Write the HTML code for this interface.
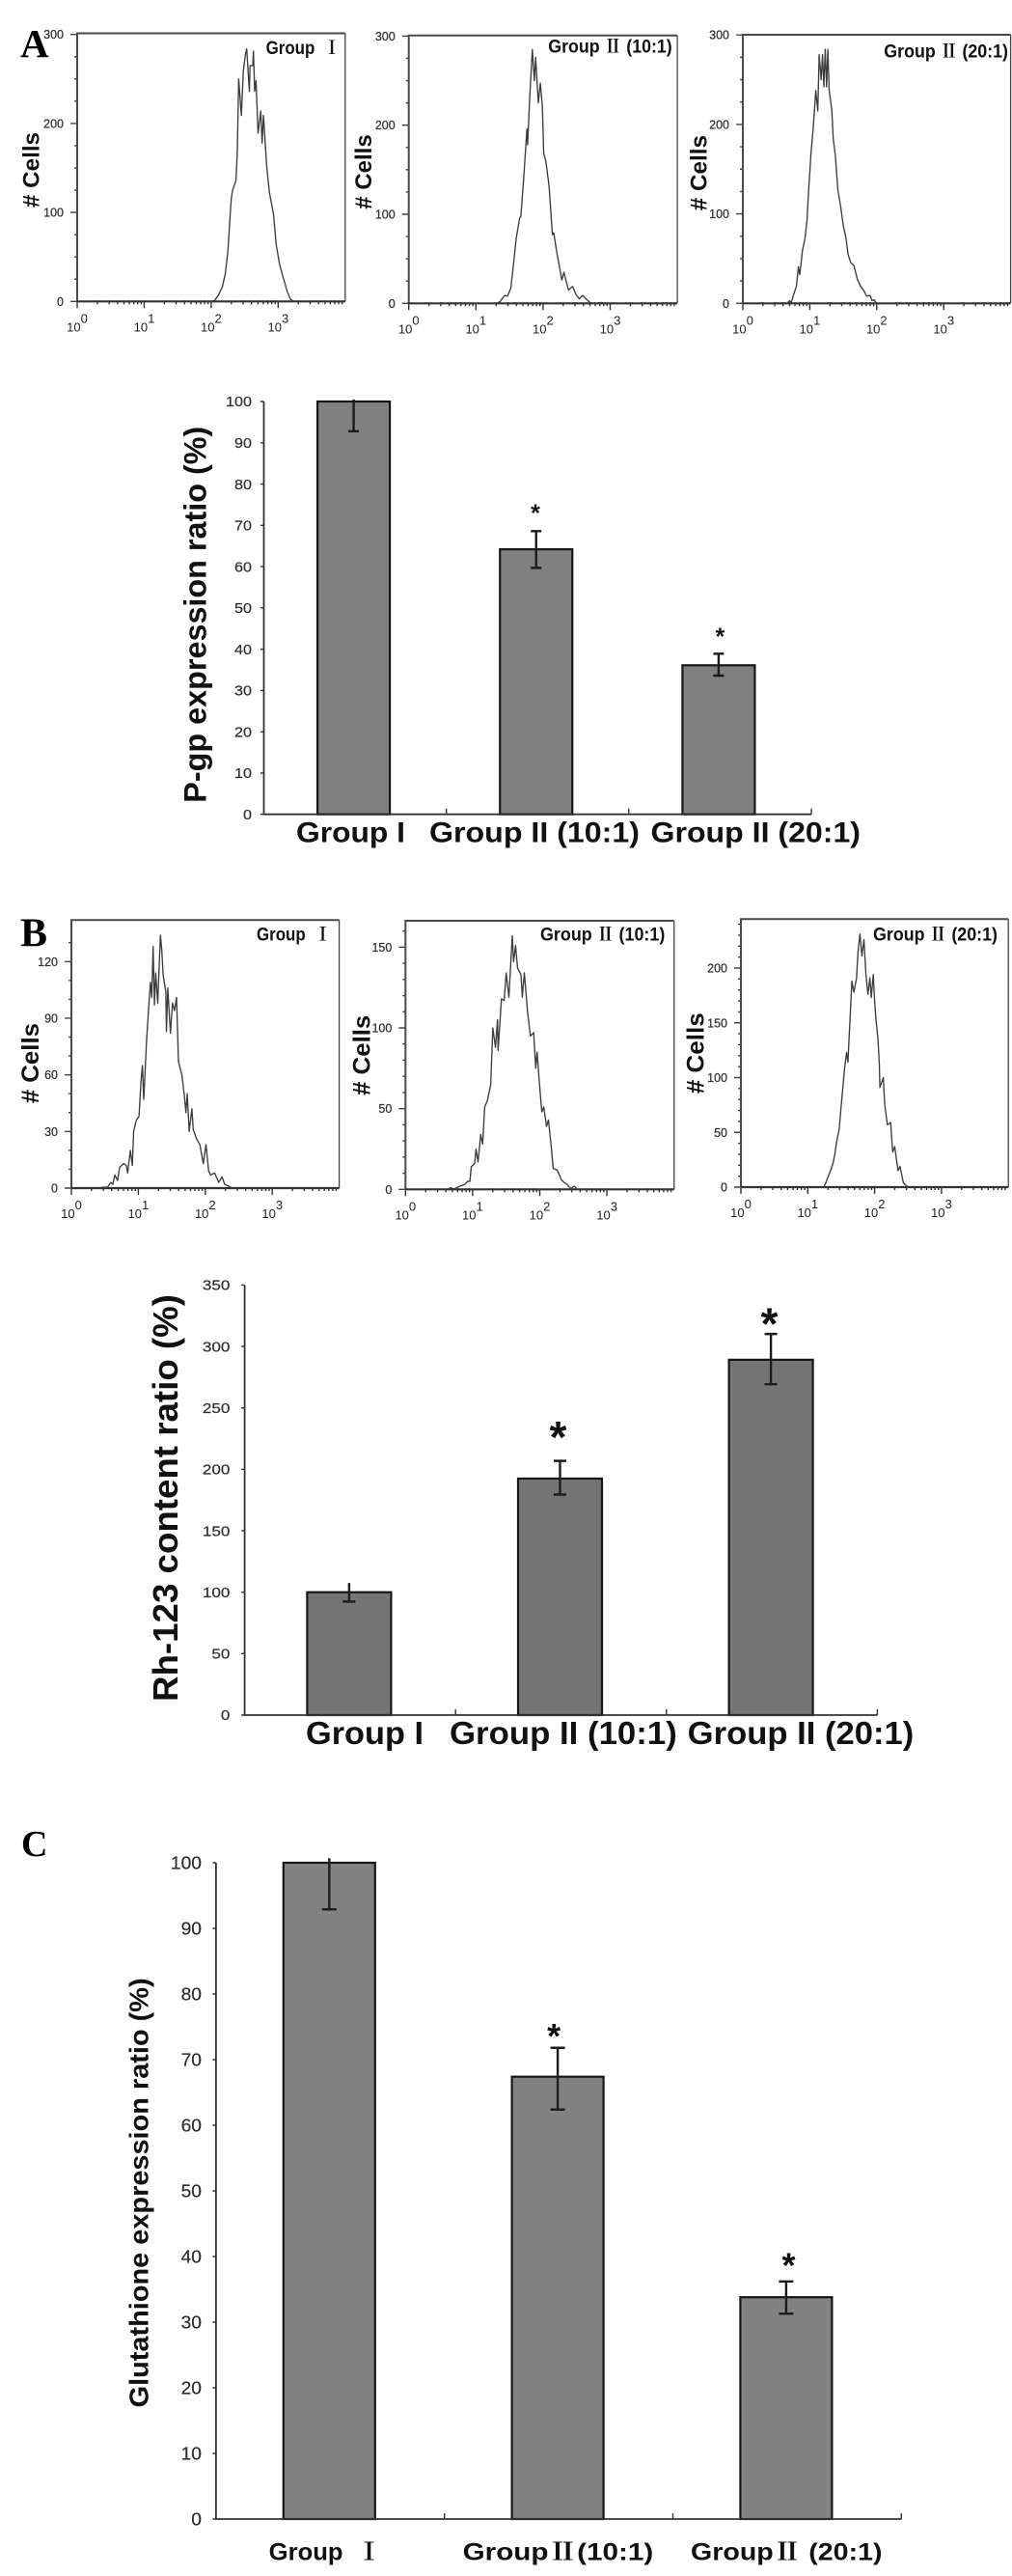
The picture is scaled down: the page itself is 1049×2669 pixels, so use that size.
<!DOCTYPE html>
<html lang="en">
<head>
<meta charset="utf-8">
<title>P-gp, Rh-123 and glutathione expression by group</title>
<style>
html,body{margin:0;padding:0;background:#fff;width:1049px;height:2669px;overflow:hidden}
svg{display:block;position:absolute;left:0;top:0;filter:blur(.3px)}
text{font-family:"Liberation Sans","Noto Serif CJK SC",sans-serif;white-space:pre}
.letter{font-family:"Liberation Serif",serif;font-weight:700;fill:#000}
.ytitle{font-weight:700;fill:#111}
.grp{font-weight:700;font-size:19px;fill:#111}
</style>
</head>
<body>
<svg id="figure" xmlns="http://www.w3.org/2000/svg" width="1049" height="2669" viewBox="0 0 1049 2669">
  <rect x="0" y="0" width="1049" height="2669" fill="#fff"/>
  <g id="charts"></g>

  <text class="letter" x="21" y="59" font-size="41">A</text>
  <text class="letter" x="21" y="980.5" font-size="42">B</text>
  <text class="letter" x="22" y="1923" font-size="38">C</text>

  <text class="grp" x="275.6" y="56" textLength="77" lengthAdjust="spacingAndGlyphs">Group&#160;&#160;Ⅰ</text>
  <text class="grp" x="568.3" y="54.3" textLength="128.4" lengthAdjust="spacingAndGlyphs">Group Ⅱ (10:1)</text>
  <text class="grp" x="916.3" y="59.3" textLength="128.7" lengthAdjust="spacingAndGlyphs">Group Ⅱ (20:1)</text>
  <text class="grp" x="266" y="974.3" textLength="77" lengthAdjust="spacingAndGlyphs">Group&#160;&#160;Ⅰ</text>
  <text class="grp" x="560" y="974.3" textLength="129.3" lengthAdjust="spacingAndGlyphs">Group Ⅱ (10:1)</text>
  <text class="grp" x="905" y="974.3" textLength="129" lengthAdjust="spacingAndGlyphs">Group Ⅱ (20:1)</text>

  <text class="ytitle" font-size="24" transform="translate(40.5 215) rotate(-90)" textLength="78" lengthAdjust="spacingAndGlyphs"># Cells</text>
  <text class="ytitle" font-size="24" transform="translate(385 216.7) rotate(-90)" textLength="77.4" lengthAdjust="spacingAndGlyphs"># Cells</text>
  <text class="ytitle" font-size="24" transform="translate(732.3 218.3) rotate(-90)" textLength="78.3" lengthAdjust="spacingAndGlyphs"># Cells</text>
  <text class="ytitle" font-size="25" transform="translate(40 1143.3) rotate(-90)" textLength="83.3" lengthAdjust="spacingAndGlyphs"># Cells</text>
  <text class="ytitle" font-size="25" transform="translate(383.3 1135) rotate(-90)" textLength="83.3" lengthAdjust="spacingAndGlyphs"># Cells</text>
  <text class="ytitle" font-size="25" transform="translate(729.7 1133.3) rotate(-90)" textLength="84" lengthAdjust="spacingAndGlyphs"># Cells</text>

  <text class="ytitle" font-size="32" transform="translate(213.3 831.7) rotate(-90)" textLength="390" lengthAdjust="spacingAndGlyphs">P-gp expression ratio (%)</text>
  <text class="ytitle" font-size="36" transform="translate(184.2 1763) rotate(-90)" textLength="422" lengthAdjust="spacingAndGlyphs">Rh-123 content ratio (%)</text>
  <text class="ytitle" font-size="28" transform="translate(153.7 2494.4) rotate(-90)" textLength="445" lengthAdjust="spacingAndGlyphs">Glutathione expression ratio (%)</text>
</svg>

<script>
/* ---------- histogram data: log10 intensity and cell counts ---------- */
const histA1Log = [1.99,2.05,2.11,2.17,2.21,2.25,2.28,2.29,2.30,2.32,2.37,2.39,2.41,2.45,2.48,2.51,2.53,2.57,2.58,2.62,2.63,2.65,2.67,2.70,2.74,2.76,2.78,2.83,2.87,2.93,2.97,3.02,3.07,3.14,3.19,3.24];
const histA1Counts = [0,1,7,17,31,57,93,104,115,125,136,169,250,209,259,277,284,236,265,265,281,236,248,189,214,178,209,151,122,98,64,42,28,10,2,0];

const histA2Log = [1.31,1.36,1.39,1.43,1.47,1.52,1.55,1.60,1.65,1.67,1.71,1.76,1.77,1.80,1.84,1.87,1.89,1.93,1.96,1.99,2.01,2.04,2.06,2.09,2.14,2.16,2.21,2.25,2.28,2.31,2.35,2.38,2.44,2.49,2.54,2.59,2.64,2.70,2.75,2.81,2.86,2.91];
const histA2Counts = [0,2,5,9,8,17,37,73,95,98,138,196,178,229,285,250,276,225,247,221,168,160,149,131,77,79,55,39,26,35,23,15,19,10,5,9,5,1,0,0,1,0];

const histA3Log = [0.66,0.70,0.72,0.76,0.80,0.83,0.85,0.89,0.93,0.96,0.98,1.02,1.05,1.09,1.12,1.14,1.17,1.19,1.21,1.23,1.25,1.27,1.29,1.31,1.33,1.35,1.38,1.42,1.46,1.50,1.54,1.57,1.61,1.66,1.71,1.76,1.81,1.85,1.90,1.93,1.96,2.00];
const histA3Counts = [0,3,0,10,19,41,32,59,73,94,123,170,195,238,215,278,250,278,242,284,242,284,238,227,215,184,166,127,109,87,73,55,46,42,27,19,14,8,9,3,4,0];

const histB1Log = [0.42,0.47,0.54,0.59,0.62,0.65,0.69,0.72,0.78,0.82,0.84,0.88,0.91,0.93,0.97,1.01,1.04,1.06,1.08,1.12,1.15,1.18,1.20,1.22,1.24,1.26,1.29,1.33,1.35,1.37,1.41,1.42,1.44,1.48,1.51,1.54,1.57,1.60,1.65,1.69,1.71,1.73,1.76,1.80,1.82,1.87,1.92,1.97,2.01,2.05,2.08,2.14,2.20,2.25,2.29,2.35,2.40];
const histB1Counts = [0,0.5,0.5,3,2,7,4,11,13,12,8,20,12,30,36,38,57,65,47,76,93,109,101,128,97,114,98,134,126,113,104,83,106,82,98,94,101,67,60,48,40,50,30,42,31,26,23,13,23,9,7,8,3,6,2,1,0];

const histB2Log = [0.64,0.68,0.72,0.81,0.88,0.93,0.96,0.98,1.03,1.05,1.08,1.12,1.15,1.18,1.22,1.27,1.30,1.34,1.37,1.38,1.43,1.47,1.50,1.54,1.59,1.61,1.64,1.67,1.72,1.74,1.77,1.82,1.86,1.91,1.94,1.96,2.00,2.03,2.06,2.10,2.13,2.17,2.20,2.26,2.32,2.37,2.41,2.46,2.51,2.56];
const histB2Counts = [0.4,1,0.2,2,3,5,5,14,16,25,17,34,28,51,55,65,100,88,105,86,118,117,134,119,157,141,151,137,133,119,134,109,95,97,75,85,63,48,51,39,43,27,13,12,6,4,3,0.4,2,0];

const histB3Log = [1.24,1.27,1.30,1.34,1.38,1.41,1.43,1.47,1.50,1.53,1.55,1.58,1.60,1.64,1.66,1.69,1.73,1.75,1.78,1.81,1.84,1.87,1.90,1.93,1.95,1.98,2.00,2.02,2.05,2.07,2.08,2.13,2.15,2.19,2.24,2.27,2.30,2.35,2.38,2.43,2.48,2.51];
const histB3Counts = [0,4,9,15,22,32,41,53,75,94,108,123,114,164,188,178,191,214,231,211,226,194,176,191,173,194,170,153,135,112,91,100,76,57,59,32,37,15,19,4,1,0];

/* ---------- histogram tick labels ---------- */
const histDecades = [0,1,2,3];
const histATicks = [0,100,200,300];
const histB1Ticks = [0,30,60,90,120];
const histB2Ticks = [0,50,100,150];
const histB3Ticks = [0,50,100,150,200];

/* ---------- bar chart A ---------- */
const barACategories = ['Group I','Group II (10:1)','Group II (20:1)'];
const barAValues = [100,64.2,36.1];
const barAErrHigh = [100.5,68.6,38.9];
const barAErrLow = [92.8,59.7,33.6];
const barAStars = ['','*','*'];
const barATicks = [0,10,20,30,40,50,60,70,80,90,100];

/* ---------- bar chart B ---------- */
const barBCategories = ['Group I','Group II (10:1)','Group II (20:1)'];
const barBValues = [100,192.5,289.2];
const barBErrHigh = [107.5,206.9,310.2];
const barBErrLow = [92.4,179.5,269.3];
const barBStars = ['','*','*'];
const barBTicks = [0,50,100,150,200,250,300,350];

/* ---------- bar chart C ---------- */
const barCCategories = ['Group  Ⅰ','GroupⅡ(10:1)','GroupⅡ (20:1)'];
const barCValues = [100,67.4,33.8];
const barCErrHigh = [100.7,71.8,36.2];
const barCErrLow = [92.9,62.4,31.3];
const barCStars = ['','*','*'];
const barCTicks = [0,10,20,30,40,50,60,70,80,90,100];

const NS = 'http://www.w3.org/2000/svg';
const root = document.getElementById('charts');

function make(tag, attrs, parent) {
  const el = document.createElementNS(NS, tag);
  for (const k in attrs) el.setAttribute(k, attrs[k]);
  parent.appendChild(el);
  return el;
}

function drawHistogram(id, logs, counts, ticks, layout) {
  const g = make('g', {}, root);
  
  

  const x = v => layout.left + v * layout.decade;
  const y = v => layout.y0 - v * layout.perCount;
  const right = x(4);

  const rightEdge = make('line', {
    x1: right, x2: right, y1: layout.top, y2: layout.y0, stroke: '#444', 'stroke-width': 1.3
  }, g);
  
  

  const box = make('path', {
    d: 'M' + layout.left + ' ' + layout.y0 + 'V' + layout.top + 'H' + right,
    fill: 'none', stroke: '#4a4a4a', 'stroke-width': 2
  }, g);
  
  

  const xAxis = make('line', {
    x1: layout.left, x2: right, y1: layout.y0, y2: layout.y0, stroke: '#333', 'stroke-width': 2.2
  }, g);
  
  

  let yTickPath = '';
  for (let v = 0; v <= layout.yMinorMax; v += layout.yMinor) {
    yTickPath += 'M' + (layout.left - 3) + ' ' + y(v) + 'H' + layout.left;
  }
  ticks.forEach(v => { yTickPath += 'M' + (layout.left - 7) + ' ' + y(v) + 'H' + layout.left; });
  const yTicks = make('path', { d: yTickPath, stroke: '#444', 'stroke-width': 1.4, fill: 'none' }, g);
  
  

  let xTickPath = '';
  for (let d = 0; d < 4; d++) {
    xTickPath += 'M' + x(d) + ' ' + layout.y0 + 'v7';
    for (let k = 2; k < 10; k++) {
      xTickPath += 'M' + x(d + Math.log10(k)) + ' ' + (layout.y0 - 1) + 'v4';
    }
  }
  const xTicks = make('path', { d: xTickPath, stroke: '#333', 'stroke-width': 1.4, fill: 'none' }, g);
  
  

  ticks.forEach(v => {
    const t = make('text', {
      x: layout.left - 14, y: y(v) + 4.5, 'text-anchor': 'end', 'font-size': 12.5, fill: '#333',
      stroke: '#333', 'stroke-width': 0.25
    }, g);
    t.textContent = String(v);
    
    
  });

  histDecades.forEach(d => {
    const t = make('text', {
      x: x(d), y: layout.y0 + 31, 'text-anchor': 'middle', 'font-size': 13, fill: '#222'
    }, g);
    const base = make('tspan', {}, t);
    base.textContent = '10';
    const exp = make('tspan', { dy: -9 }, t);
    exp.textContent = String(d);
    
    
  });

  const pts = logs.map((l, i) => x(l).toFixed(1) + ',' + y(counts[i]).toFixed(1)).join(' ');
  const line = make('polyline', {
    points: pts, fill: 'none', stroke: '#3c3c3c', 'stroke-width': 1.35, 'stroke-linejoin': 'round'
  }, g);
  
  
}

function drawBars(id, cats, vals, hi, lo, stars, ticks, layout) {
  const g = make('g', {}, root);
  
  

  const y = v => layout.y0 - v * layout.perUnit;
  const band = (layout.right - layout.left) / cats.length;
  const cx = i => layout.left + (i + 0.5) * band + layout.shift;

  vals.forEach((v, i) => {
    const bar = make('rect', {
      x: cx(i) - layout.barW / 2, y: y(v), width: layout.barW, height: layout.y0 - y(v),
      fill: layout.fill, stroke: '#161616', 'stroke-width': 2.2
    }, g);
    
    
  });

  const axis = make('path', {
    d: 'M' + layout.left + ' ' + y(ticks[ticks.length - 1]) + 'V' + layout.y0 + 'H' + layout.right,
    fill: 'none', stroke: '#333', 'stroke-width': 1.8
  }, g);
  
  

  let tickPath = '';
  ticks.forEach(v => { tickPath += 'M' + (layout.left - 3.5) + ' ' + y(v) + 'H' + layout.left; });
  cats.forEach((c, i) => {
    tickPath += 'M' + (layout.left + (i + 1) * band) + ' ' + layout.y0 + 'v-6';
  });
  const tickMarks = make('path', { d: tickPath, stroke: '#333', 'stroke-width': 1.4, fill: 'none' }, g);
  
  

  ticks.forEach(v => {
    const s = String(v);
    const t = make('text', {
      x: layout.tickRight, y: y(v) + layout.tickFont * 0.36, 'text-anchor': 'end',
      'font-size': layout.tickFont, fill: '#2e2e2e', stroke: '#2e2e2e', 'stroke-width': 0.2,
      textLength: s.length * layout.tickCharW, lengthAdjust: 'spacingAndGlyphs'
    }, g);
    t.textContent = s;
    
    
  });

  hi.forEach((h, i) => {
    const ex = cx(i);
    let d = 'M' + ex + ' ' + y(h) + 'V' + y(lo[i]);
    d += 'M' + (ex - layout.capHalf) + ' ' + y(lo[i]) + 'h' + (2 * layout.capHalf);
    if (stars[i]) d += 'M' + (ex - layout.capHalf) + ' ' + y(h) + 'h' + (2 * layout.capHalf);
    const err = make('path', { d: d, stroke: '#1c1c1c', 'stroke-width': 2.4, fill: 'none' }, g);
    
    
  });

  stars.forEach((s, i) => {
    if (!s) return;
    const t = make('text', {
      x: cx(i) + layout.starDx[i], y: y(hi[i]) - layout.starGap[i] + layout.starFont * 0.46,
      'text-anchor': 'middle', 'font-size': layout.starFont, 'font-weight': 700, fill: '#111'
    }, g);
    t.textContent = s;
    
    
  });

  cats.forEach((c, i) => {
    const t = make('text', {
      x: layout.labelX[i], y: layout.labelY, 'font-size': layout.labelFont, 'font-weight': 700, fill: '#111',
      textLength: layout.labelW[i], lengthAdjust: 'spacingAndGlyphs'
    }, g);
    t.textContent = c;
    
    
  });
}

drawHistogram('a1', histA1Log, histA1Counts, histATicks, { left: 80, decade: 69.45, top: 34.5, y0: 312.3, perCount: 0.922, yMinor: 25, yMinorMax: 300 });
drawHistogram('a2', histA2Log, histA2Counts, histATicks, { left: 423.7, decade: 69.6, top: 36.7, y0: 314.3, perCount: 0.923, yMinor: 25, yMinorMax: 300 });
drawHistogram('a3', histA3Log, histA3Counts, histATicks, { left: 770, decade: 69.4, top: 36, y0: 314.3, perCount: 0.927, yMinor: 25, yMinorMax: 300 });
drawHistogram('b1', histB1Log, histB1Counts, histB1Ticks, { left: 74, decade: 69.4, top: 953.3, y0: 1231, perCount: 1.956, yMinor: 10, yMinorMax: 130 });
drawHistogram('b2', histB2Log, histB2Counts, histB2Ticks, { left: 420.3, decade: 69.6, top: 954, y0: 1232.3, perCount: 1.673, yMinor: 10, yMinorMax: 160 });
drawHistogram('b3', histB3Log, histB3Counts, histB3Ticks, { left: 768, decade: 69.3, top: 952.3, y0: 1230, perCount: 1.135, yMinor: 10, yMinorMax: 240 });

drawBars('a', barACategories, barAValues, barAErrHigh, barAErrLow, barAStars, barATicks, {
  left: 273.5, right: 841, y0: 843.7, perUnit: 4.277, barW: 75, shift: -1.5, fill: '#808080',
  tickRight: 261, tickFont: 14.5, tickCharW: 9, capHalf: 5.5, starGap: [0, 22, 21], starDx: [0, -0.8, 1.5], starFont: 25,
  labelX: [307, 445, 674.5], labelW: [113, 218, 217.5], labelY: 872.5, labelFont: 30
});
drawBars('b', barBCategories, barBValues, barBErrHigh, barBErrLow, barBStars, barBTicks, {
  left: 253.6, right: 909.4, y0: 1777, perUnit: 1.273, barW: 87, shift: -1, fill: '#757575',
  tickRight: 238.4, tickFont: 14.5, tickCharW: 9.5, capHalf: 6.5, starGap: [0, 30, 16], starDx: [0, -2, -1.7], starFont: 46,
  labelX: [317, 466, 712.7], labelW: [122, 235.8, 234.6], labelY: 1807, labelFont: 33
});
drawBars('c', barCCategories, barCValues, barCErrHigh, barCErrLow, barCStars, barCTicks, {
  left: 223.9, right: 934.3, y0: 2610, perUnit: 6.8, barW: 95, shift: -1, fill: '#828282',
  tickRight: 209, tickFont: 18, tickCharW: 10.7, capHalf: 7.5, starGap: [0, 16.5, 21], starDx: [0, -4, 2.6], starFont: 36,
  labelX: [278.7, 479.6, 716], labelW: [116.7, 197.7, 198.5], labelY: 2652.4, labelFont: 25
});
</script>
</body>
</html>
